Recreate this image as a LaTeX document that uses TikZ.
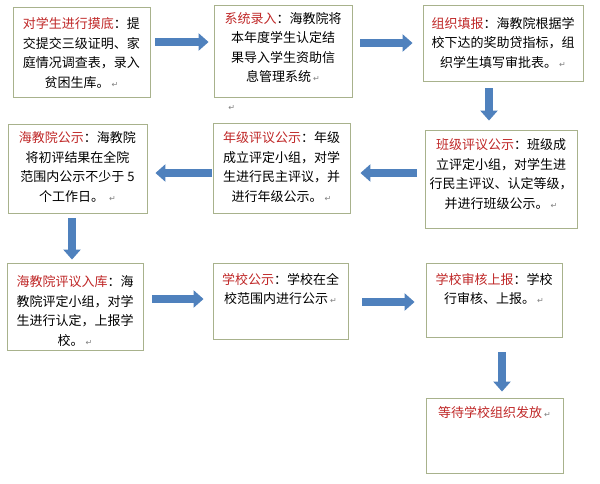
\documentclass[tikz,border=0pt]{standalone}
\usepackage{fontspec}
\setmainfont{Noto Sans CJK SC}
\newfontfamily\symf{DejaVu Sans}
\usetikzlibrary{positioning,arrows.meta}
\definecolor{boxline}{RGB}{168,178,140}
\definecolor{titlered}{RGB}{192,40,40}
\definecolor{arrowblue}{RGB}{79,129,189}
\newcommand{\redlab}[1]{\textcolor{titlered}{#1}}
\newcommand{\enterm}{\,{\color{gray}\fontsize{8}{8}\symf ↵}}
\tikzset{
  box/.style={draw=boxline,line width=0.9pt,rectangle,inner sep=0pt},
  txt/.style={align=center,inner sep=0pt,font=\fontsize{13}{19.5}\selectfont},
  flow/.style={draw=arrowblue,line width=8pt,-{Triangle[width=17pt,length=10pt]}}
}
\begin{document}
\begin{tikzpicture}[x=1pt,y=-1pt]
    \useasboundingbox[fill=white] (0,0) rectangle (600,483);
    \node[box,minimum width=137pt,minimum height=90pt] (mo) at (81.5,52) {};
    \node[box,minimum width=138pt,minimum height=92pt] (luru) at (283,51) {};
    \node[box,minimum width=160pt,minimum height=76pt] (tianbao) at (503,43) {};
    \node[box,minimum width=152pt,minimum height=98pt] (banji) at (501,179) {};
    \node[box,minimum width=137pt,minimum height=90pt] (nianji) at (281.5,168) {};
    \node[box,minimum width=139pt,minimum height=89pt] (hjgs) at (77.5,168.5) {};
    \node[box,minimum width=136pt,minimum height=87pt] (ruku) at (75,306.5) {};
    \node[box,minimum width=135pt,minimum height=76pt] (xxgs) at (280.5,301) {};
    \node[box,minimum width=136pt,minimum height=74pt] (shenhe) at (494,300) {};
    \node[box,minimum width=137pt,minimum height=75pt] (fafang) at (494.5,435.5) {};
    \node[txt,below=11pt of mo.north] (mo-t) {\redlab{对学生进行摸底}：提\\交提交三级证明、家\\庭情况调查表，录入\\贫困生库。\enterm};
    \node[txt,below=7.5pt of luru.north] (luru-t) {\redlab{系统录入}：海教院将\\本年度学生认定结\\果导入学生资助信\\息管理系统\enterm};
    \node[txt,below=12.5pt of tianbao.north] (tianbao-t) {\redlab{组织填报}：海教院根据学\\校下达的奖助贷指标，组\\织学生填写审批表。\enterm};
    \node[txt,below=9pt of banji.north] (banji-t) {\redlab{班级评议公示}：班级成\\立评定小组，对学生进\\行民主评议、认定等级，\\并进行班级公示。\enterm};
    \node[txt,below=9pt of nianji.north] (nianji-t) {\redlab{年级评议公示}：年级\\成立评定小组，对学\\生进行民主评议，并\\进行年级公示。\enterm};
    \node[txt,below=8pt of hjgs.north] (hjgs-t) {\redlab{海教院公示}：海教院\\将初评结果在全院\\范围内公示不少于 5\\个工作日。 \enterm};
    \node[txt,below=13pt of ruku.north] (ruku-t) {\redlab{海教院评议入库}：海\\教院评定小组，对学\\生进行认定，上报学\\校。\enterm};
    \node[txt,below=10.5pt of xxgs.north] (xxgs-t) {\redlab{学校公示}：学校在全\\校范围内进行公示\enterm};
    \node[txt,below=10.5pt of shenhe.north] (shenhe-t) {\redlab{学校审核上报}：学校\\行审核、上报。\enterm};
    \node[txt,below=8.5pt of fafang.north] (fafang-t) {\redlab{等待学校组织发放}\enterm};
    \node[inner sep=0pt] (mark) at (231,108) {\enterm};
    \draw[flow,shorten <=5pt,shorten >=5pt] ([yshift=10pt]mo.east) -- ([yshift=10pt]mo.east -| luru.west);
    \draw[flow,shorten <=8pt,shorten >=10pt] ([yshift=8pt]luru.east) -- ([yshift=8pt]luru.east -| tianbao.west);
    \draw[flow,shorten <=7pt,shorten >=9pt] ([xshift=-14pt]tianbao.south) -- ([xshift=-14pt]tianbao.south |- banji.north);
    \draw[flow,shorten <=8pt,shorten >=10pt] ([yshift=6pt]banji.west) -- ([yshift=6pt]banji.west -| nianji.east);
    \draw[flow,shorten <=1pt,shorten >=8pt] ([yshift=-5pt]nianji.west) -- ([yshift=-5pt]nianji.west -| hjgs.east);
    \draw[flow,shorten <=5pt,shorten >=3pt] ([xshift=-5.5pt]hjgs.south) -- ([xshift=-5.5pt]hjgs.south |- ruku.north);
    \draw[flow,shorten <=9pt,shorten >=9pt] ([yshift=7.5pt]ruku.east) -- ([yshift=7.5pt]ruku.east -| xxgs.west);
    \draw[flow,shorten <=14pt,shorten >=11pt] ([yshift=-1pt]xxgs.east) -- ([yshift=-1pt]xxgs.east -| shenhe.west);
    \draw[flow,shorten <=15pt,shorten >=6pt] ([xshift=8pt]shenhe.south) -- ([xshift=8pt]shenhe.south |- fafang.north);
\end{tikzpicture}
\end{document}
